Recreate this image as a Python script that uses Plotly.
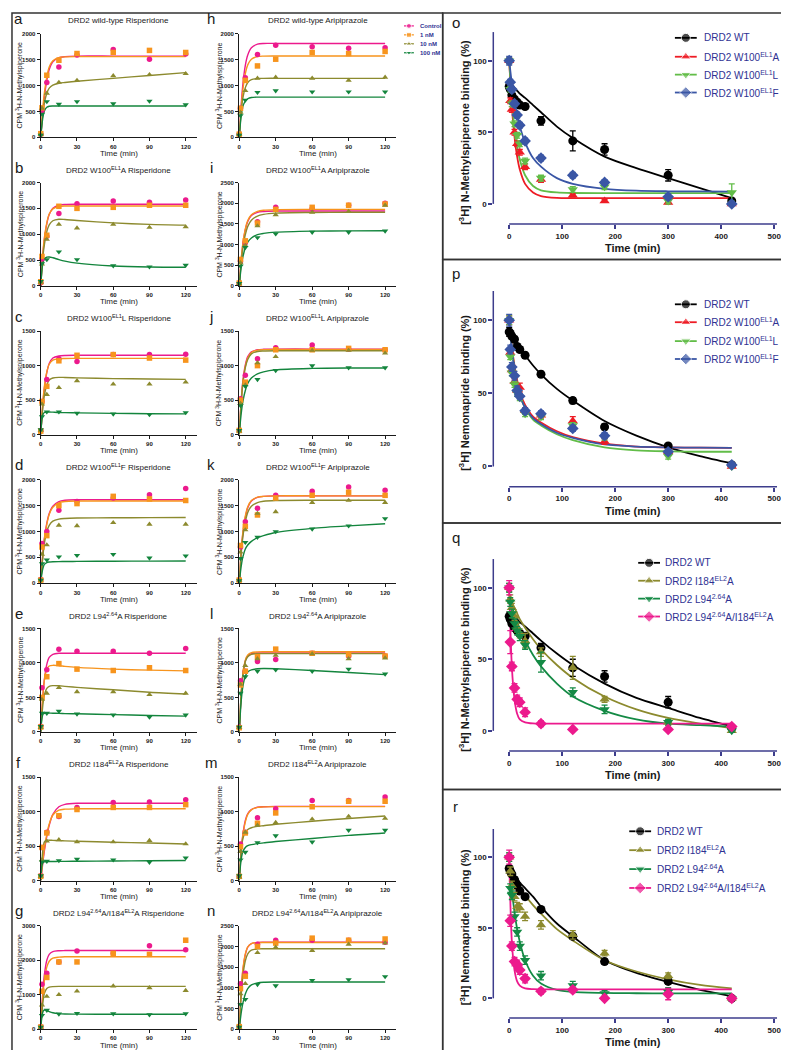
import plotly.graph_objects as go

W, H = 789, 1050
FONT = "Liberation Sans, Arial, sans-serif"
INK = "#1a1a1a"
NAVY = "#2e3192"
AXIS_BLUE = "#3d3d8c"

# ---------------- association kinetics (panels a-n) ----------------
T_PTS = [0, 1, 5, 15, 30, 60, 90, 120]
T_FIT = [0, 1, 2, 3, 5, 7, 10, 15, 20, 30, 60, 90, 120]
DOSES = ["Control", "1 nM", "10 nM", "100 nM"]
DOSE_COLORS = ["#ec1a8d", "#f7941d", "#8c8a2e", "#13853d"]
DOSE_SYMBOLS = ["circle", "square", "triangle-up", "triangle-down"]

# rows: Control, 1 nM, 10 nM, 100 nM
A_PTS = [[60, 520, 1060, 1360, 1590, 1700, 1510, 1610],
         [70, 570, 1200, 1490, 1620, 1640, 1680, 1640],
         [50, 560, 850, 1060, 1100, 1190, 1210, 1230],
         [40, 450, 690, 640, 690, 650, 700, 630]]
A_FIT = [[0, 300, 560, 780, 1100, 1310, 1460, 1540, 1560, 1570, 1570, 1570, 1570],
         [0, 350, 640, 860, 1170, 1360, 1480, 1540, 1555, 1560, 1560, 1560, 1560],
         [0, 290, 510, 660, 850, 950, 1010, 1045, 1060, 1085, 1140, 1195, 1250],
         [0, 250, 420, 510, 580, 600, 605, 605, 605, 605, 605, 605, 605]]

B_PTS = [[60, 520, 960, 1400, 1590, 1640, 1620, 1660],
         [80, 570, 980, 1540, 1500, 1520, 1560, 1560],
         [70, 420, 900, 1190, 1120, 1190, 1130, 1140],
         [90, 430, 510, 660, 510, 390, 370, 400]]
B_FIT = [[0, 380, 680, 900, 1200, 1380, 1500, 1560, 1575, 1580, 1580, 1580, 1580],
         [0, 400, 710, 930, 1220, 1390, 1490, 1535, 1545, 1545, 1545, 1545, 1545],
         [0, 350, 620, 800, 1050, 1180, 1260, 1290, 1285, 1265, 1220, 1190, 1175],
         [0, 320, 460, 520, 555, 560, 545, 510, 480, 440, 385, 365, 360]]

C_PTS = [[60, 480, 800, 1100, 1060, 1160, 1160, 1165],
         [50, 480, 700, 1070, 1150, 1160, 1110, 1080],
         [60, 440, 580, 680, 780, 730, 730, 760],
         [70, 260, 330, 330, 310, 300, 290, 320]]
C_FIT = [[0, 280, 500, 670, 900, 1030, 1110, 1140, 1148, 1150, 1150, 1150, 1150],
         [0, 300, 530, 700, 910, 1020, 1080, 1100, 1103, 1105, 1105, 1105, 1105],
         [0, 250, 440, 570, 720, 790, 820, 830, 828, 822, 812, 806, 800],
         [0, 230, 300, 320, 328, 328, 325, 320, 318, 315, 308, 303, 300]]

D_PTS = [[70, 770, 1000, 1410, 1580, 1650, 1710, 1830],
         [60, 700, 920, 1500, 1540, 1680, 1630, 1600],
         [60, 560, 740, 1120, 1110, 1170, 1140, 1140],
         [60, 380, 450, 510, 540, 560, 490, 530]]
D_FIT = [[0, 360, 650, 870, 1160, 1350, 1490, 1580, 1605, 1615, 1615, 1615, 1615],
         [0, 350, 630, 850, 1140, 1330, 1470, 1555, 1580, 1590, 1590, 1590, 1590],
         [0, 320, 580, 770, 1000, 1120, 1200, 1240, 1252, 1260, 1265, 1268, 1270],
         [0, 200, 310, 365, 400, 410, 415, 418, 420, 422, 425, 428, 430]]

E_PTS = [[80, 640, 900, 1200, 1170, 1170, 1140, 1210],
         [70, 500, 800, 990, 910, 890, 930, 890],
         [60, 470, 560, 640, 580, 580, 540, 560],
         [80, 270, 270, 300, 260, 245, 215, 245]]
E_FIT = [[0, 320, 570, 760, 980, 1080, 1125, 1140, 1140, 1140, 1140, 1140, 1140],
         [0, 330, 580, 750, 910, 955, 965, 960, 950, 935, 910, 895, 885],
         [0, 250, 430, 540, 630, 660, 670, 668, 660, 645, 610, 575, 550],
         [0, 200, 260, 270, 272, 272, 270, 268, 265, 262, 250, 238, 228]]

F_PTS = [[70, 480, 700, 930, 1060, 1130, 1140, 1170],
         [60, 480, 690, 940, 1030, 1060, 1060, 1100],
         [60, 300, 570, 590, 560, 560, 580, 530],
         [70, 270, 280, 290, 310, 300, 265, 330]]
F_FIT = [[0, 150, 300, 430, 640, 800, 960, 1070, 1105, 1120, 1120, 1120, 1120],
         [0, 170, 330, 460, 670, 820, 950, 1020, 1035, 1040, 1040, 1040, 1040],
         [0, 300, 480, 560, 585, 585, 582, 578, 575, 570, 555, 545, 530],
         [0, 220, 265, 272, 275, 275, 276, 277, 278, 280, 283, 286, 290]]

G_PTS = [[70, 1300, 1620, 1950, 2270, 2200, 2420, 2300],
         [60, 1100, 1500, 1950, 1950, 2200, 2170, 2580],
         [50, 700, 950, 1000, 1100, 1250, 1200, 1120],
         [60, 400, 550, 440, 460, 450, 420, 450]]
G_FIT = [[0, 700, 1200, 1580, 2000, 2170, 2250, 2275, 2280, 2280, 2280, 2280, 2280],
         [0, 620, 1080, 1420, 1800, 1970, 2060, 2090, 2100, 2100, 2100, 2100, 2100],
         [0, 500, 840, 1040, 1180, 1220, 1235, 1240, 1240, 1240, 1240, 1240, 1240],
         [0, 380, 520, 555, 540, 510, 475, 450, 440, 435, 432, 432, 432]]

H_PTS = [[60, 560, 1150, 1600, 1780, 1750, 1720, 1730],
         [60, 560, 1100, 1380, 1510, 1640, 1620, 1660],
         [50, 480, 900, 1140, 1160, 1140, 1100, 1160],
         [40, 420, 720, 870, 900, 880, 880, 880]]
H_FIT = [[0, 420, 760, 1030, 1390, 1590, 1730, 1800, 1815, 1815, 1815, 1815, 1815],
         [0, 380, 680, 920, 1230, 1400, 1510, 1560, 1570, 1573, 1573, 1573, 1573],
         [0, 330, 580, 760, 960, 1060, 1115, 1138, 1140, 1140, 1140, 1140, 1140],
         [0, 280, 480, 600, 700, 745, 770, 777, 777, 777, 777, 777, 777]]

I_PTS = [[60, 600, 1050, 1550, 1900, 1870, 1950, 2000],
         [70, 640, 1090, 1520, 1850, 1900, 1950, 1980],
         [50, 560, 980, 1450, 1720, 1780, 1800, 1950],
         [60, 480, 930, 1170, 1260, 1300, 1300, 1330]]
I_FIT = [[0, 420, 750, 1010, 1360, 1560, 1700, 1780, 1800, 1810, 1810, 1810, 1810],
         [0, 430, 770, 1030, 1380, 1580, 1720, 1800, 1830, 1845, 1850, 1850, 1850],
         [0, 380, 680, 910, 1240, 1440, 1590, 1690, 1730, 1760, 1775, 1780, 1780],
         [0, 300, 530, 700, 930, 1060, 1160, 1240, 1270, 1300, 1325, 1330, 1335]]

J_PTS = [[60, 520, 860, 1100, 1260, 1300, 1240, 1230],
         [60, 500, 760, 1000, 1230, 1230, 1250, 1230],
         [50, 450, 720, 1040, 1130, 1220, 1220, 1180],
         [60, 420, 700, 800, 930, 1000, 970, 970]]
J_FIT = [[0, 330, 590, 780, 1010, 1130, 1200, 1230, 1237, 1240, 1240, 1240, 1240],
         [0, 320, 570, 760, 990, 1110, 1190, 1225, 1232, 1235, 1235, 1235, 1235],
         [0, 310, 560, 740, 970, 1090, 1170, 1205, 1212, 1215, 1215, 1215, 1215],
         [0, 200, 360, 480, 640, 740, 820, 880, 910, 940, 960, 965, 965]]

K_PTS = [[60, 700, 1190, 1450, 1700, 1780, 1860, 1800],
         [60, 730, 1100, 1320, 1650, 1700, 1760, 1700],
         [50, 600, 1030, 1350, 1380, 1560, 1600, 1560],
         [50, 480, 790, 890, 1000, 1050, 1110, 1250]]
K_FIT = [[0, 400, 720, 960, 1270, 1460, 1590, 1660, 1680, 1690, 1690, 1690, 1690],
         [0, 420, 750, 990, 1300, 1480, 1600, 1665, 1680, 1690, 1690, 1690, 1690],
         [0, 380, 680, 900, 1190, 1370, 1490, 1560, 1585, 1600, 1605, 1605, 1605],
         [0, 220, 390, 510, 660, 740, 810, 880, 920, 980, 1060, 1110, 1150]]

L_PTS = [[70, 740, 880, 1020, 1050, 1140, 1100, 1100],
         [60, 680, 880, 1090, 1200, 1140, 1120, 1100],
         [60, 690, 960, 1060, 1110, 1130, 1060, 1070],
         [70, 560, 800, 880, 900, 880, 910, 840]]
L_FIT = [[0, 360, 640, 830, 1030, 1100, 1135, 1145, 1145, 1145, 1145, 1145, 1145],
         [0, 370, 650, 840, 1040, 1115, 1150, 1160, 1162, 1162, 1162, 1162, 1162],
         [0, 370, 650, 830, 1020, 1090, 1125, 1135, 1135, 1135, 1135, 1135, 1135],
         [0, 300, 520, 660, 810, 870, 900, 915, 918, 915, 890, 860, 830]]

M_PTS = [[60, 530, 700, 910, 1040, 1160, 1160, 1210],
         [60, 490, 690, 830, 980, 1070, 1150, 1150],
         [50, 420, 700, 800, 840, 890, 930, 900],
         [70, 300, 410, 550, 650, 560, 730, 730]]
M_FIT = [[0, 290, 510, 670, 870, 970, 1030, 1062, 1070, 1075, 1075, 1075, 1075],
         [0, 280, 490, 650, 850, 960, 1025, 1060, 1068, 1072, 1072, 1072, 1072],
         [0, 300, 500, 610, 700, 740, 765, 785, 795, 815, 860, 900, 935],
         [0, 220, 350, 420, 480, 505, 520, 535, 545, 565, 610, 655, 690]]

N_PTS = [[60, 1100, 1350, 2050, 2150, 2150, 2150, 2100],
         [60, 980, 1280, 2000, 2080, 2200, 2150, 2180],
         [50, 850, 1100, 1850, 1980, 1900, 2050, 2080],
         [50, 600, 720, 1080, 1050, 1180, 1200, 1270]]
N_FIT = [[0, 620, 1080, 1420, 1800, 1980, 2070, 2095, 2100, 2100, 2100, 2100, 2100],
         [0, 640, 1110, 1450, 1820, 1990, 2070, 2092, 2095, 2095, 2095, 2095, 2095],
         [0, 560, 980, 1290, 1650, 1820, 1910, 1940, 1945, 1945, 1945, 1945, 1945],
         [0, 260, 470, 630, 850, 980, 1070, 1120, 1135, 1140, 1140, 1140, 1140]]

# ---------------- dissociation (panels o-r) ----------------
DIS_T = [0, 2, 5, 10, 15, 20, 30, 60, 120, 180, 300, 420]
DIS_FIT_T = [0, 5, 10, 15, 20, 30, 45, 60, 90, 120, 180, 240, 300, 360, 420]

W100_NAMES = ["DRD2 WT", "DRD2 W100<sup>EL1</sup>A", "DRD2 W100<sup>EL1</sup>L", "DRD2 W100<sup>EL1</sup>F"]
W100_COLORS = ["#000000", "#ee1c25", "#62bd48", "#3a56a5"]
W100_SYMBOLS = ["circle", "triangle-up", "triangle-down", "diamond"]

L94_NAMES = ["DRD2 WT", "DRD2 I184<sup>EL2</sup>A", "DRD2 L94<sup>2.64</sup>A",
             "DRD2 L94<sup>2.64</sup>A/I184<sup>EL2</sup>A"]
L94_COLORS = ["#000000", "#8c8a2e", "#148a45", "#ec1a8d"]
L94_SYMBOLS = ["circle", "triangle-up", "triangle-down", "diamond"]

O_PTS = [[82, 80, 76, 73, 71, 69, 68, 58, 44, 38, 20, 2],
         [100, 72, 66, 50, 42, 36, 26, 17, 6, 2, 1, 0],
         [100, 80, 70, 56, 48, 42, 30, 18, 10, 12, 2, 8],
         [100, 85, 80, 70, 62, 55, 44, 32, 20, 15, 5, 0]]
O_ERR = [[2, 2, 2, 2, 2, 2, 2, 3, 7, 4, 4, 1],
         [2, 2, 2, 2, 2, 2, 2, 2, 1, 1, 1, 1],
         [2, 2, 2, 2, 2, 2, 2, 2, 2, 2, 2, 6],
         [3, 2, 2, 2, 2, 2, 2, 2, 2, 2, 2, 1]]
O_FIT = [[85, 83, 81, 79, 77, 74, 69, 64, 54, 46, 33, 25, 18, 11, 4],
         [100, 68, 47, 33, 24, 14, 8, 5.5, 4.2, 4, 4, 4, 4, 4, 4],
         [100, 72, 53, 40, 31, 20, 12.5, 9.5, 8, 7.6, 7.5, 7.5, 7.5, 7.5, 7.5],
         [100, 84, 72, 62, 54, 43, 32, 26, 18, 14, 10.5, 9.2, 8.8, 8.7, 8.6]]

P_PTS = [[92, 91, 89, 87, 82, 80, 76, 63, 45, 27, 14, 1],
         [100, 78, 66, 58, 52, 54, 38, 35, 31, 17, 10, 0],
         [100, 75, 64, 56, 50, 47, 36, 34, 28, 20, 7, 0],
         [100, 80, 68, 62, 52, 48, 38, 36, 26, 21, 10, 1]]
P_ERR = [[3, 2, 2, 2, 2, 2, 2, 2, 2, 2, 1, 1],
         [3, 2, 2, 2, 2, 3, 2, 2, 3, 2, 2, 1],
         [3, 2, 2, 2, 2, 2, 2, 2, 2, 2, 2, 1],
         [4, 3, 3, 3, 3, 2, 2, 2, 2, 2, 2, 1]]
P_FIT = [[93, 90, 87, 84, 81, 76, 69, 63, 53, 45, 31, 21, 13, 7, 2],
         [100, 82, 69, 59, 51, 42, 34, 30, 24, 20, 15.5, 13.5, 13, 12.8, 12.7],
         [100, 81, 67, 57, 49, 40, 32, 28, 22, 18, 13, 11, 10.3, 10, 10],
         [100, 80, 66, 56, 49, 40, 33, 29, 23, 19.5, 15, 13.5, 13, 12.8, 12.7]]

Q_PTS = [[80, 78, 75, 72, 70, 68, 66, 58, 44, 38, 20, 2],
         [100, 92, 86, 80, 72, 68, 63, 55, 44, 22, 6, 0],
         [100, 90, 82, 75, 70, 66, 60, 48, 27, 15, 6, 0],
         [100, 62, 45, 30, 22, 20, 13, 5, 1, None, 1, 3]]
Q_ERR = [[3, 2, 2, 2, 2, 2, 2, 3, 6, 4, 4, 1],
         [3, 3, 3, 3, 3, 3, 5, 3, 8, 2, 2, 1],
         [3, 3, 3, 3, 3, 3, 3, 7, 3, 3, 2, 1],
         [5, 8, 3, 3, 3, 3, 3, 2, 1, 0, 1, 1]]
Q_FIT = [[84, 82, 80, 78, 76, 73, 68, 63, 54, 46, 33, 23, 16, 9, 3],
         [95, 90, 86, 82, 78, 72, 64, 57, 46, 37, 24, 15, 9, 5, 2],
         [93, 87, 81, 76, 71, 63, 53, 45, 33, 24, 14, 8, 5, 4, 3],
         [100, 45, 22, 12, 8, 6, 5.2, 5, 5, 5, 5, 5, 5, 5, 5]]

R_PTS = [[92, 90, 88, 84, 80, 76, 72, 63, 44, 26, 12, 0],
         [100, 90, 80, 72, 65, 64, 58, 52, 45, 32, 16, 0],
         [100, 78, 73, 58, 47, 37, 27, 16, 9, 3.5, 4.5, 0],
         [100, 55, 37, 26, 24, 20, 14, 5, 6, 0, 3, 0]]
R_ERR = [[2, 2, 2, 2, 2, 2, 2, 2, 2, 2, 2, 1],
         [3, 3, 3, 3, 3, 3, 3, 3, 3, 2, 2, 1],
         [3, 3, 3, 3, 3, 3, 3, 3, 3, 2, 3, 1],
         [5, 4, 3, 3, 3, 3, 3, 2, 2, 1, 4, 1]]
R_FIT = [[92, 90, 87, 85, 82, 78, 72, 65, 53, 44, 27, 18, 11.6, 6, 1.6],
         [95, 90, 86, 82, 79, 73, 66, 60, 49, 41, 27, 19, 13.5, 9.5, 7],
         [100, 77, 61, 49, 40, 27, 16, 10.5, 6, 4.6, 3.8, 3.6, 3.5, 3.5, 3.5],
         [100, 40, 20, 12, 9, 7, 6.5, 6.4, 6.4, 6.4, 6.4, 6.4, 6.4, 6.4, 6.4]]

NMSP_LABEL = "[<sup>3</sup>H] N-Methylspiperone binding (%)"
NEMO_LABEL = "[<sup>3</sup>H] Nemonapride binding (%)"

# ---------------- layout geometry (pixels) ----------------
KIN_COLS = [(31, 188), (231, 389)]
KIN_LETTER_X = [9, 203]
KIN_YLAB_X = [10, 211]
KIN_TOP, KIN_STEP, KIN_H = 23, 149.5, 104
KIN_YLAB = "CPM <sup>3</sup>H-N-Methylspiperone"

DIS_X = (487, 773)
DIS_XRANGE = [-30, 505.6]


def axis_keys(k):
    s = "" if k == 1 else str(k)
    return "xaxis" + s, "yaxis" + s, "x" + s, "y" + s


def ann(text, x, y, size, color=INK, bold=False, angle=0, xanchor="center"):
    return dict(text=text, x=x / W, y=1 - y / H, xref="paper", yref="paper",
                showarrow=False, xanchor=xanchor, yanchor="middle", textangle=angle,
                font=dict(family=FONT, size=size, color=color,
                          weight="bold" if bold else "normal"))


fig = go.Figure()
axes = {}
annotations = []
shapes = []

KIN_AXIS = dict(showgrid=False, zeroline=False, showline=True, linecolor=INK, linewidth=1.2,
                ticks="outside", ticklen=3, tickwidth=1.2, tickcolor=INK,
                tickfont=dict(family=FONT, size=6, color=INK, weight="bold"))

KIN_PANELS = [
    ("a", "DRD2 wild-type Risperidone", 0, 0, 2000, 500, A_PTS, A_FIT),
    ("b", "DRD2 W100<sup>EL1</sup>A Risperidone", 0, 1, 2000, 500, B_PTS, B_FIT),
    ("c", "DRD2 W100<sup>EL1</sup>L Risperidone", 0, 2, 1500, 500, C_PTS, C_FIT),
    ("d", "DRD2 W100<sup>EL1</sup>F Risperidone", 0, 3, 2000, 500, D_PTS, D_FIT),
    ("e", "DRD2 L94<sup>2.64</sup>A Risperidone", 0, 4, 1500, 500, E_PTS, E_FIT),
    ("f", "DRD2 I184<sup>EL2</sup>A Risperidone", 0, 5, 1500, 500, F_PTS, F_FIT),
    ("g", "DRD2 L94<sup>2.64</sup>A/I184<sup>EL2</sup>A Risperidone", 0, 6, 3000, 1000, G_PTS, G_FIT),
    ("h", "DRD2 wild-type Aripiprazole", 1, 0, 2000, 500, H_PTS, H_FIT),
    ("i", "DRD2 W100<sup>EL1</sup>A Aripiprazole", 1, 1, 2500, 500, I_PTS, I_FIT),
    ("j", "DRD2 W100<sup>EL1</sup>L Aripiprazole", 1, 2, 1500, 500, J_PTS, J_FIT),
    ("k", "DRD2 W100<sup>EL1</sup>F Aripiprazole", 1, 3, 2000, 500, K_PTS, K_FIT),
    ("l", "DRD2 L94<sup>2.64</sup>A Aripiprazole", 1, 4, 1500, 500, L_PTS, L_FIT),
    ("m", "DRD2 I184<sup>EL2</sup>A Aripiprazole", 1, 5, 1500, 500, M_PTS, M_FIT),
    ("n", "DRD2 L94<sup>2.64</sup>A/I184<sup>EL2</sup>A Aripiprazole", 1, 6, 2500, 500, N_PTS, N_FIT),
]

k = 0
for letter, title, col, row, ymax, dtick, pts, fit in KIN_PANELS:
    k += 1
    xn, yn, xr, yr = axis_keys(k)
    x0, x1 = KIN_COLS[col]
    top = KIN_TOP + row * KIN_STEP
    bot = top + KIN_H
    axes[xn] = dict(domain=[x0 / W, x1 / W], range=[0, 129], anchor=yr,
                    tickvals=[0, 30, 60, 90, 120], **KIN_AXIS)
    axes[yn] = dict(domain=[1 - bot / H, 1 - top / H], range=[0, ymax], anchor=xr,
                    dtick=dtick, **KIN_AXIS)
    for i in range(4):
        fig.add_trace(go.Scatter(
            x=T_FIT, y=fit[i], mode="lines", xaxis=xr, yaxis=yr, hoverinfo="skip",
            line=dict(color=DOSE_COLORS[i], width=1.4, shape="spline", smoothing=0.8)))
    for i in range(4):
        fig.add_trace(go.Scatter(
            x=T_PTS, y=pts[i], mode="markers", name=DOSES[i], xaxis=xr, yaxis=yr,
            cliponaxis=False,
            marker=dict(symbol=DOSE_SYMBOLS[i], color=DOSE_COLORS[i], size=5.5)))
    cx = (x0 + x1) / 2
    annotations.append(ann(title, cx, top - 13, 8))
    annotations.append(ann(letter, KIN_LETTER_X[col], top - 15, 15))
    annotations.append(ann(KIN_YLAB, KIN_YLAB_X[col], top + KIN_H / 2, 7, angle=-90))
    annotations.append(ann("Time (min)", cx, bot + 16, 8))

DIS_AXIS = dict(showgrid=False, zeroline=False, showline=False,
                ticks="outside", ticklen=4, tickwidth=1.5, tickcolor=AXIS_BLUE,
                tickfont=dict(family=FONT, size=8, color=INK, weight="bold"))

# letter, y label, y(0) px, y(100) px, names, colors, symbols, points, errors, fits,
# legend glyph x, legend text x, letter y, legend rows
DIS_PANELS = [
    ("o", NMSP_LABEL, 194, 50, W100_NAMES, W100_COLORS, W100_SYMBOLS, O_PTS, O_ERR, O_FIT,
     681, 697, 12, [27, 46, 64, 82]),
    ("p", NEMO_LABEL, 458, 311, W100_NAMES, W100_COLORS, W100_SYMBOLS, P_PTS, P_ERR, P_FIT,
     681, 697, 264, [295, 313, 332, 350]),
    ("q", NMSP_LABEL, 724, 580, L94_NAMES, L94_COLORS, L94_SYMBOLS, Q_PTS, Q_ERR, Q_FIT,
     644, 658, 530, [555, 573, 591, 609]),
    ("r", NEMO_LABEL, 993, 851, L94_NAMES, L94_COLORS, L94_SYMBOLS, R_PTS, R_ERR, R_FIT,
     635, 650, 800, [825, 844, 863, 882]),
]

legend_glyphs = []
for letter, ylab, y0, y100, names, colors, symbols, pts, err, fit, gx, tx, ly, rows in DIS_PANELS:
    k += 1
    xn, yn, xr, yr = axis_keys(k)
    s = (y0 - y100) / 100.0
    top = y0 - 120 * s
    bot = y0 + 14 * s
    axes[xn] = dict(domain=[DIS_X[0] / W, DIS_X[1] / W], range=DIS_XRANGE, anchor=yr,
                    tickvals=[0, 100, 200, 300, 400, 500], **DIS_AXIS)
    axes[yn] = dict(domain=[1 - bot / H, 1 - top / H], range=[-14, 120], anchor=xr,
                    tickvals=[0, 50, 100], **DIS_AXIS)
    shapes.append(dict(type="line", xref=xr, yref=yr + " domain", x0=0, x1=DIS_XRANGE[1],
                       y0=0, y1=0, line=dict(color=AXIS_BLUE, width=1.5)))
    shapes.append(dict(type="line", xref=xr + " domain", yref=yr, x0=0, x1=0,
                       y0=0, y1=120, line=dict(color=AXIS_BLUE, width=1.5)))
    for i in range(4):
        fig.add_trace(go.Scatter(
            x=DIS_FIT_T, y=fit[i], mode="lines", xaxis=xr, yaxis=yr, hoverinfo="skip",
            line=dict(color=colors[i], width=1.8, shape="spline", smoothing=0.8)))
    for i in range(4):
        fig.add_trace(go.Scatter(
            x=DIS_T, y=pts[i], mode="markers", name=names[i], xaxis=xr, yaxis=yr,
            cliponaxis=False,
            error_y=dict(type="data", array=err[i], color=colors[i], thickness=1.3, width=3),
            marker=dict(symbol=symbols[i], color=colors[i], size=9)))
    annotations.append(ann(letter, 449, ly, 15))
    annotations.append(ann(ylab, 458, (y0 + y100) / 2, 11, bold=True, angle=-90))
    annotations.append(ann("Time (min)", 628, bot + 24, 11, bold=True))
    for i in range(4):
        legend_glyphs.append((gx, rows[i], 11, 9, colors[i], symbols[i]))
        annotations.append(ann(names[i], tx, rows[i], 10, color=NAVY, xanchor="left"))

# small dose legend inside panel h
H_LEG_ROWS = [15, 24, 33, 42]
for i in range(4):
    legend_glyphs.append((402, H_LEG_ROWS[i], 5, 5, DOSE_COLORS[i], DOSE_SYMBOLS[i]))
    annotations.append(ann(DOSES[i], 411, H_LEG_ROWS[i], 6, color=NAVY, bold=True,
                           xanchor="left"))

# canvas axis (pixel coordinates) for the legend glyphs
k += 1
xn, yn, xr, yr = axis_keys(k)
axes[xn] = dict(domain=[0, 1], range=[0, W], visible=False, fixedrange=True, anchor=yr)
axes[yn] = dict(domain=[0, 1], range=[H, 0], visible=False, fixedrange=True, anchor=xr)
for gx, gy, half, msize, color, symbol in legend_glyphs:
    fig.add_trace(go.Scatter(
        x=[gx - half, gx, gx + half], y=[gy, gy, gy], mode="lines+markers",
        xaxis=xr, yaxis=yr, hoverinfo="skip",
        line=dict(color=color, width=1.8 if half > 6 else 1.2),
        marker=dict(symbol=symbol, color=color, size=[0, msize, 0])))

# panel frames
FRAME = dict(color="#333333", width=1.5)
for fx0, fy0, fx1, fy1 in [(2, 2, 436, 1048), (436, 2, 787, 250), (436, 250, 787, 515),
                           (436, 515, 787, 783), (436, 783, 787, 1048)]:
    shapes.append(dict(type="rect", xref="paper", yref="paper", x0=fx0 / W, x1=fx1 / W,
                       y0=1 - fy1 / H, y1=1 - fy0 / H, line=FRAME, fillcolor="rgba(0,0,0,0)"))

fig.update_layout(
    width=W, height=H, autosize=False,
    margin=dict(l=0, r=0, t=0, b=0),
    paper_bgcolor="white", plot_bgcolor="rgba(0,0,0,0)",
    showlegend=False,
    font=dict(family=FONT, color=INK),
    annotations=annotations, shapes=shapes,
    **axes,
)

fig.write_html("out.html")
